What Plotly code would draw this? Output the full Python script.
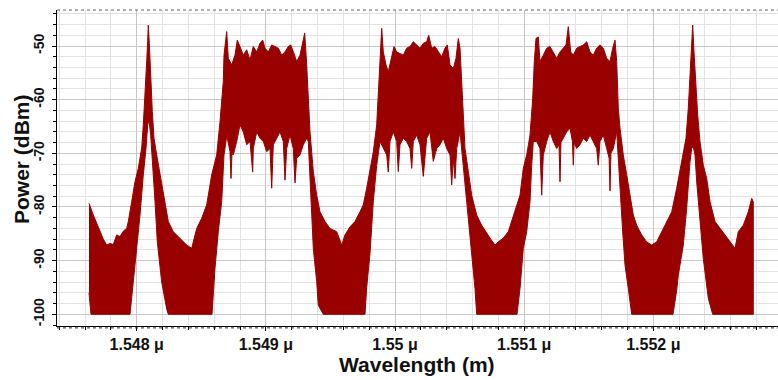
import plotly.graph_objects as go

# ---- data (wavelength in nm, power in dBm) ----
upper_wavelength_nm = [
    1547.6307, 1547.6461, 1547.6640, 1547.6903, 1547.7158, 1547.7414, 1547.7677, 1547.7933,
    1547.8188, 1547.8451, 1547.8707, 1547.8962, 1547.9226, 1547.9350, 1547.9613, 1547.9868,
    1548.0124, 1548.0387, 1548.0511, 1548.0643, 1548.0774, 1548.0852, 1548.0898, 1548.0976,
    1548.1030, 1548.1107, 1548.1208, 1548.1340, 1548.1549, 1548.1804, 1548.2060, 1548.2447,
    1548.2834, 1548.3353, 1548.3871, 1548.4259, 1548.4646, 1548.5033, 1548.5420, 1548.5807,
    1548.6194, 1548.6450, 1548.6705, 1548.6760, 1548.6969, 1548.7093, 1548.7356, 1548.7611,
    1548.7789, 1548.7998, 1548.8254, 1548.8517, 1548.8773, 1548.9028, 1548.9291, 1548.9547,
    1548.9756, 1548.9934, 1549.0190, 1549.0453, 1549.0708, 1549.0964, 1549.1227, 1549.1483,
    1549.1738, 1549.1924, 1549.2180, 1549.2389, 1549.2644, 1549.2853, 1549.3008, 1549.3163,
    1549.3287, 1549.3418, 1549.3674, 1549.3937, 1549.4193, 1549.4580, 1549.4967, 1549.5486,
    1549.5873, 1549.6128, 1549.6516, 1549.6903, 1549.7290, 1549.7545, 1549.7809, 1549.8064,
    1549.8320, 1549.8583, 1549.8707, 1549.8839, 1549.8970, 1549.9094, 1549.9303, 1549.9481,
    1549.9744, 1549.9923, 1550.0132, 1550.0387, 1550.0643, 1550.0906, 1550.1161, 1550.1417,
    1550.1680, 1550.1936, 1550.2191, 1550.2454, 1550.2609, 1550.2842, 1550.3097, 1550.3353,
    1550.3616, 1550.3871, 1550.4049, 1550.4259, 1550.4514, 1550.4723, 1550.4901, 1550.5033,
    1550.5164, 1550.5288, 1550.5420, 1550.5676, 1550.5939, 1550.6326, 1550.6713, 1550.7356,
    1550.7743, 1550.7998, 1550.8385, 1550.8773, 1550.9160, 1550.9423, 1550.9679, 1550.9934,
    1551.0197, 1551.0453, 1551.0662, 1551.0786, 1551.0917, 1551.1096, 1551.1227, 1551.1483,
    1551.1746, 1551.2001, 1551.2257, 1551.2520, 1551.2776, 1551.3031, 1551.3240, 1551.3418,
    1551.3604, 1551.3806, 1551.4069, 1551.4324, 1551.4580, 1551.4843, 1551.5099, 1551.5354,
    1551.5617, 1551.5873, 1551.6128, 1551.6392, 1551.6647, 1551.6856, 1551.7034, 1551.7166,
    1551.7290, 1551.7421, 1551.7677, 1551.7940, 1551.8196, 1551.8451, 1551.8715, 1551.9102,
    1551.9489, 1551.9876, 1552.0263, 1552.0650, 1552.1037, 1552.1425, 1552.1812, 1552.2067,
    1552.2323, 1552.2532, 1552.2710, 1552.2841, 1552.2973, 1552.3051, 1552.3151, 1552.3283,
    1552.3438, 1552.3616, 1552.3871, 1552.4135, 1552.4390, 1552.4777, 1552.5164, 1552.5551,
    1552.5939, 1552.6326, 1552.6581, 1552.6968, 1552.7356, 1552.7619, 1552.7743,
]
upper_power_dbm = [
    -79.3, -80.5, -81.5, -83.0, -84.6, -86.0, -87.1, -86.8,
    -87.0, -85.2, -85.5, -84.5, -84.0, -82.7, -79.0, -75.3,
    -72.8, -69.0, -64.7, -59.8, -52.9, -49.0, -46.1, -49.5,
    -51.7, -56.6, -62.2, -67.2, -70.3, -74.0, -77.8, -82.7,
    -84.6, -85.8, -87.1, -87.7, -84.0, -82.1, -79.6, -74.0,
    -70.3, -64.1, -56.6, -51.7, -47.3, -52.3, -53.5, -51.7,
    -48.9, -50.1, -51.7, -50.7, -52.6, -50.1, -51.1, -49.5,
    -48.9, -50.4, -51.1, -49.8, -50.1, -50.4, -51.7, -51.1,
    -50.1, -49.8, -51.4, -52.9, -51.7, -49.2, -47.6, -53.5,
    -59.8, -66.0, -73.4, -77.8, -80.9, -82.7, -84.0, -84.6,
    -87.1, -85.2, -83.7, -82.7, -80.9, -79.6, -76.5, -73.4,
    -69.7, -64.7, -59.1, -52.3, -46.7, -51.1, -53.5, -54.8,
    -51.7, -50.1, -51.1, -51.4, -51.7, -50.4, -50.1, -49.2,
    -49.8, -50.4, -49.5, -49.2, -48.0, -50.4, -50.1, -51.1,
    -52.0, -50.4, -49.8, -53.5, -54.2, -52.3, -48.6, -50.4,
    -56.6, -62.9, -69.1, -73.4, -77.8, -81.5, -83.4, -85.8,
    -87.1, -86.5, -85.8, -84.6, -81.5, -79.6, -77.8, -72.8,
    -70.3, -66.6, -59.8, -52.9, -48.6, -48.3, -52.9, -51.7,
    -50.4, -50.1, -51.1, -52.3, -51.1, -50.4, -49.8, -46.4,
    -51.1, -51.7, -50.4, -50.1, -49.8, -49.2, -51.1, -51.7,
    -50.4, -49.8, -50.4, -52.3, -52.9, -50.4, -48.9, -52.9,
    -61.6, -65.3, -70.3, -74.0, -77.8, -81.5, -83.4, -85.2,
    -86.5, -87.1, -86.5, -84.6, -82.7, -80.9, -76.5, -73.4,
    -70.3, -67.2, -61.6, -55.4, -49.2, -46.1, -51.1, -57.3,
    -62.9, -67.8, -72.2, -74.7, -79.0, -82.7, -84.0, -85.2,
    -86.5, -87.7, -84.6, -83.4, -80.9, -78.4, -79.0,
]

lower_wavelength_nm = [
    1547.6307, 1547.6461, 1547.9481, 1547.9737, 1548.0000, 1548.0256, 1548.0511, 1548.0720,
    1548.0852, 1548.0952, 1548.1084, 1548.1239, 1548.1417, 1548.1595, 1548.1936, 1548.2323,
    1548.2447, 1548.5830, 1548.5931, 1548.6063, 1548.6318, 1548.6581, 1548.6760, 1548.6914,
    1548.6969, 1548.7224, 1548.7302, 1548.7379, 1548.7480, 1548.7743, 1548.7998, 1548.8254,
    1548.8517, 1548.8773, 1548.8982, 1548.9028, 1548.9291, 1548.9547, 1548.9803, 1549.0066,
    1549.0321, 1549.0453, 1549.0577, 1549.0840, 1549.1096, 1549.1351, 1549.1483, 1549.1614,
    1549.1870, 1549.2125, 1549.2257, 1549.2389, 1549.2644, 1549.2900, 1549.3163, 1549.3287,
    1549.3418, 1549.3550, 1549.3674, 1549.3937, 1549.4061, 1549.4448, 1549.7677, 1549.7809,
    1549.8064, 1549.8320, 1549.8583, 1549.8839, 1549.9094, 1549.9357, 1549.9481, 1549.9613,
    1549.9868, 1550.0132, 1550.0255, 1550.0387, 1550.0643, 1550.0906, 1550.1161, 1550.1293,
    1550.1417, 1550.1680, 1550.1936, 1550.2191, 1550.2454, 1550.2710, 1550.2965, 1550.3229,
    1550.3484, 1550.3740, 1550.4003, 1550.4259, 1550.4390, 1550.4514, 1550.4646, 1550.4777,
    1550.5033, 1550.5164, 1550.5420, 1550.5676, 1550.5939, 1550.6194, 1550.6326, 1550.9446,
    1550.9679, 1550.9934, 1551.0197, 1551.0453, 1551.0584, 1551.0708, 1551.0972, 1551.1227,
    1551.1359, 1551.1483, 1551.1746, 1551.2001, 1551.2257, 1551.2520, 1551.2700, 1551.2776,
    1551.2850, 1551.3031, 1551.3295, 1551.3550, 1551.3740, 1551.3806, 1551.3870, 1551.4069,
    1551.4324, 1551.4580, 1551.4843, 1551.5099, 1551.5354, 1551.5617, 1551.5741, 1551.5873,
    1551.6128, 1551.6392, 1551.6580, 1551.6647, 1551.6720, 1551.6903, 1551.7166, 1551.7290,
    1551.7421, 1551.7631, 1551.7809, 1551.8064, 1551.8327, 1552.1525, 1552.1812, 1552.1936,
    1552.2323, 1552.2586, 1552.2841, 1552.2973, 1552.3097, 1552.3229, 1552.3360, 1552.3616,
    1552.3871, 1552.4258, 1552.4599, 1552.7743,
]
lower_power_dbm = [
    -96.0, -100.0, -100.0, -93.9, -87.7, -81.5, -74.0, -69.1,
    -64.7, -63.8, -66.6, -71.6, -79.0, -86.5, -94.0, -99.0,
    -100.0, -100.0, -96.0, -91.4, -84.6, -79.0, -70.3, -67.8,
    -66.6, -69.7, -74.7, -70.0, -70.3, -67.8, -64.7, -66.0,
    -68.4, -67.8, -73.5, -69.1, -66.0, -67.2, -67.8, -69.7,
    -69.1, -76.5, -68.4, -67.2, -66.0, -67.8, -75.0, -69.1,
    -66.6, -69.1, -75.5, -70.9, -70.3, -68.4, -67.2, -67.8,
    -75.3, -81.5, -87.7, -93.9, -98.3, -100.0, -100.0, -95.0,
    -88.7, -79.0, -72.2, -67.8, -69.1, -70.3, -73.5, -67.8,
    -66.0, -67.8, -73.4, -68.4, -67.2, -67.8, -69.1, -72.8,
    -67.8, -66.6, -68.4, -74.3, -67.2, -66.0, -71.5, -69.1,
    -68.4, -67.2, -69.1, -70.3, -75.9, -70.9, -74.7, -69.1,
    -66.0, -69.0, -75.3, -82.7, -88.9, -95.2, -100.0, -100.0,
    -95.2, -87.7, -84.6, -79.0, -72.2, -67.8, -67.8, -69.1,
    -77.8, -70.3, -67.8, -66.0, -67.8, -69.1, -68.4, -75.3,
    -68.0, -67.2, -66.0, -65.3, -67.8, -72.2, -68.0, -69.1,
    -68.4, -67.2, -67.8, -66.6, -67.8, -69.1, -72.2, -67.8,
    -66.6, -69.1, -70.9, -77.0, -70.0, -69.1, -66.0, -70.3,
    -76.5, -84.6, -90.8, -95.2, -100.0, -100.0, -95.5, -92.7,
    -87.1, -80.2, -71.6, -69.1, -68.8, -70.3, -75.3, -82.7,
    -89.6, -97.0, -100.0, -100.0,
]

x_tick_values = [1548, 1549, 1550, 1551, 1552]
x_tick_labels = ["1.548 μ", "1.549 μ", "1.55 μ", "1.551 μ", "1.552 μ"]
y_tick_values = [-100, -90, -80, -70, -60, -50]
y_tick_labels = ["-100", "-90", "-80", "-70", "-60", "-50"]

x_range = [1547.3829, 1552.9656]
y_range = [-102.18, -43.29]

RED = "#990000"
FONT = "Liberation Sans"

poly_x = upper_wavelength_nm + lower_wavelength_nm[::-1]
poly_y = upper_power_dbm + lower_power_dbm[::-1]

fig = go.Figure()
fig.add_trace(go.Scatter(
    x=poly_x, y=poly_y, mode="lines", fill="toself", fillcolor=RED,
    line=dict(color=RED, width=1), hoverinfo="skip", showlegend=False,
))

fig.update_layout(
    width=778, height=380,
    margin=dict(l=57, r=0, t=10, b=54),
    paper_bgcolor="white", plot_bgcolor="white",
    showlegend=False,
    xaxis=dict(
        range=x_range, tickmode="array", tickvals=x_tick_values,
        ticktext=["<b>%s</b>" % t for t in x_tick_labels],
        showgrid=True, gridcolor="#c6c6c6", gridwidth=1, zeroline=False,
        ticks="outside", ticklen=4, tickcolor="black",
        showline=True, linecolor="black", linewidth=1,
        tickfont=dict(family=FONT, size=16, color="#111111"),
        ticklabelstandoff=0,
        minor=dict(dtick=0.2, tick0=1548, showgrid=True, gridcolor="#e3e3e3", gridwidth=1,
                   ticks="outside", ticklen=3, tickcolor="black"),
    ),
    yaxis=dict(
        range=y_range, tickmode="array", tickvals=y_tick_values,
        ticktext=["<b>%s</b>" % t for t in y_tick_labels], tickangle=-90,
        showgrid=True, gridcolor="#c6c6c6", gridwidth=1, zeroline=False,
        ticks="outside", ticklen=4, tickcolor="black",
        showline=True, linecolor="black", linewidth=1,
        tickfont=dict(family=FONT, size=14, color="#111111"),
        ticklabelstandoff=2,
        minor=dict(dtick=2, tick0=-100, showgrid=True, gridcolor="#e3e3e3", gridwidth=1,
                   ticks="outside", ticklen=3, tickcolor="black"),
    ),
    shapes=[
        dict(type="line", xref="paper", yref="paper", x0=0, x1=1, y0=1, y1=1,
             line=dict(color="#666666", width=1, dash="dot")),
        dict(type="line", xref="paper", yref="paper", x0=0, x1=1, y0=-0.006, y1=-0.006,
             line=dict(color="#333333", width=1, dash="dot")),
    ],
    annotations=[
        dict(text="<b>Power (dBm)</b>", xref="paper", yref="paper", x=-0.0485, y=0.5285,
             xanchor="center", yanchor="middle", textangle=-90, showarrow=False,
             font=dict(family=FONT, size=21, color="#111111")),
        dict(text="<b>Wavelength (m)</b>", xref="paper", yref="paper", x=0.4993, y=-0.1203,
             xanchor="center", yanchor="middle", showarrow=False,
             font=dict(family=FONT, size=21, color="#111111")),
    ],
)

fig.write_html("out.html")
